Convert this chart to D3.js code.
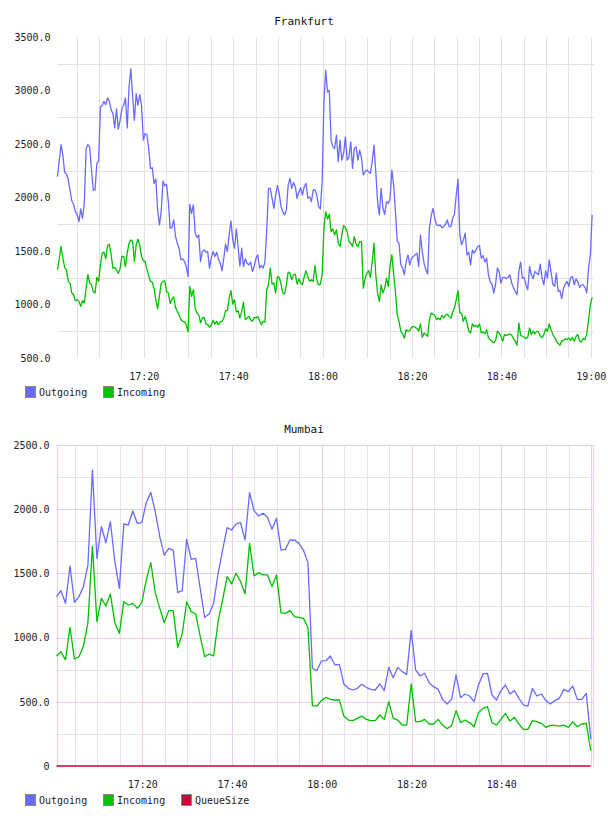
<!DOCTYPE html>
<html>
<head>
<meta charset="utf-8">
<script src="https://cdnjs.cloudflare.com/ajax/libs/d3/7.8.5/d3.min.js"></script>
<style>
body { margin: 0; background: #fff; }
svg text { font-family: "DejaVu Sans Mono", monospace; font-size: 10px; fill: #222; }
</style>
</head>
<body>
<script>
// Frankfurt: one sample every 24 s
const frankStart = "17:00:42"
const frankStepSec = 24
const frankOutgoing = [
  2194,2350,2495,2396,2234,2220,2170,2070,1967,1935,
  1868,1840,1775,1893,1806,1945,2458,2495,2473,2259,
  2070,2070,2318,2340,2846,2862,2899,2868,2930,2900,
  2820,2784,2650,2830,2638,2720,2830,2862,2930,2650,
  3033,3203,2950,2722,2970,2862,2961,2862,2536,2598,
  2589,2458,2272,2278,2132,2172,1884,1744,1868,2154,
  2110,2123,1961,1712,1719,1790,1635,1573,1526,1417,
  1427,1402,1355,1262,1936,1852,1930,1666,1626,1651,
  1402,1495,1511,1489,1495,1340,1433,1495,1449,1489,
  1427,1386,1315,1433,1564,1495,1651,1781,1604,1526,
  1706,1542,
  1360,1526,1355,1427,1386,1371,1396,1309,1355,1433,
  1464,1340,1365,1340,1396,1681,2085,2085,1992,1899,
  2023,2110,2039,1914,1868,1837,1883,2116,2178,2085,
  2141,2101,1992,2054,2091,2023,2101,2132,1992,2008,
  1961,2070,2070,2023,1914,1893,2147,2900,3190,2986,
  3001,2536,2473,2458,2582,2334,2536,2349,2411,2567,
  2349,2380,2520,2272,2458,2473,2349,2442,2365,2210,
  2241,2256,2241,2225,2334,2489,2241,1961,1837,2085,
  1899,1843,1961,1945,1992,2256,2116,1868,1588,1573,
  1371,1340,1278,1402,1464,1371,1433,1449,
  1464,1480,1355,1650,1495,1386,1324,1284,1712,1831,
  1899,1806,1744,1737,1744,1719,1728,1750,1790,1728,
  1728,1806,1843,2023,2172,1650,1557,1604,1666,1464,
  1489,1371,1511,1480,1511,1542,1551,1433,1458,1396,
  1433,1278,1210,1191,1107,1191,1340,1309,1200,1253,
  1253,1241,1253,1278,1200,1160,1122,1091,1309,1396,
  1247,1253,1184,1138,1355,1278,1241,1309,1293,1278,
  1377,1247,1184,1315,1247,1417,1309,1191,1169,1293,
  1122,1129,1054,1153,1191,1216,1169,1253,1262,1184,
  1241,1210,1160,1184,1184,1160,1107,1340,1464,1837
]
const frankIncoming = [
  1324,1430,1542,1433,1346,1324,1216,1200,1107,1091,
  1035,1045,1029,983,1035,1014,1150,1278,1200,1185,
  1122,1107,1253,1216,1371,1480,1489,1427,1551,1564,
  1464,1340,1346,1324,1290,1333,1449,1449,1355,1480,
  1573,1604,1588,1402,1560,1610,1550,1450,1408,1402,
  1330,1270,1216,1210,1150,1040,961,1080,1200,1216,
  1222,1122,1107,1010,1050,1070,973,936,905,860,
  843,837,812,744,1169,1076,1138,960,920,905,
  828,874,880,818,812,787,806,853,818,843,
  812,837,843,874,942,942,1060,1129,1004,1045,
  930,942,
  874,936,1023,858,874,889,858,843,880,874,
  889,849,812,843,834,1138,1184,1340,1191,1200,
  1107,1262,1253,1191,1107,1098,1184,1303,1293,1231,
  1278,1284,1191,1241,1200,1184,1262,1315,1262,1216,
  1231,1216,1365,1231,1184,1191,1278,1712,1868,1800,
  1843,1681,1706,1650,1697,1573,1542,1650,1737,1719,
  1681,1588,1573,1542,1635,1564,1542,1588,1588,1153,
  1241,1293,1315,1253,1402,1573,1278,1107,1029,1184,
  1107,1153,1247,1169,1371,1464,1278,1116,905,843,
  750,725,687,765,750,756,787,796,
  787,775,750,818,694,734,719,703,858,920,
  911,899,858,874,858,899,874,899,911,889,
  874,930,967,1045,1129,920,920,843,889,827,
  750,734,818,796,806,787,818,734,744,725,
  765,688,672,657,641,663,750,734,703,657,
  719,712,719,725,712,681,657,619,827,712,
  703,694,681,694,781,719,750,725,750,744,
  703,688,719,775,750,818,765,719,694,657,
  638,619,663,663,681,672,688,663,694,657,
  703,719,657,650,681,672,725,858,998,1066
]
const frankYLabels = [500, 1000, 1500, 2000, 2500, 3000, 3500]
const frankXLabels = ["17:20", "17:40", "18:00", "18:20", "18:40", "19:00"]

// Mumbai: one sample per minute
const mumbaiStart = "17:00:55"
const mumbaiStepSec = 60
const mumbaiOutgoing = [
  1319,1366,1267,1558,1275,1319,1397,1565,2305,1617,
  1864,1739,1903,1591,1384,1885,1877,1986,1890,1895,
  2051,2131,1981,1786,1643,1695,1682,1350,1366,1765,
  1610,1617,1384,1158,1184,1267,1501,1682,1856,1838,
  1885,1895,1760,2129,1989,1947,1968,1937,1843,1929,
  1682,1687,1760,1760,1734,1682,1584,761,743,818,
  820,857,787,792,639,605,592,605,636,613,
  597,592,639,587,768,688,768,735,714,1054,
  748,701,722,649,618,597,519,483,519,709,
  532,561,545,501,631,717,722,553,514,587,
  631,561,587,527,475,467,605,545,561,509,
  483,509,527,597,579,623,519,519,566,208
]
const mumbaiIncoming = [
  857,890,826,1080,833,851,935,1116,1713,1124,
  1306,1246,1340,1116,1033,1280,1254,1267,1228,1272,
  1449,1584,1350,1228,1116,1210,1210,924,1028,1280,
  1202,1184,1012,851,872,857,1124,1293,1475,1418,
  1501,1436,1340,1734,1480,1506,1488,1488,1397,1488,
  1194,1189,1210,1163,1158,1150,1080,470,467,509,
  535,519,514,514,389,358,353,371,389,363,
  353,353,397,363,501,371,358,319,319,639,
  345,345,363,327,327,363,319,291,314,431,
  338,358,338,306,415,449,462,338,319,363,
  410,350,379,327,285,285,353,345,332,301,
  316,316,311,319,301,345,306,327,332,119
]
const mumbaiQueueSize = [
  0,0,0,0,0,0,0,0,0,0, 0,0,0,0,0,0,0,0,0,0,
  0,0,0,0,0,0,0,0,0,0, 0,0,0,0,0,0,0,0,0,0,
  0,0,0,0,0,0,0,0,0,0, 0,0,0,0,0,0,0,0,0,0,
  0,0,0,0,0,0,0,0,0,0, 0,0,0,0,0,0,0,0,0,0,
  0,0,0,0,0,0,0,0,0,0, 0,0,0,0,0,0,0,0,0,0,
  0,0,0,0,0,0,0,0,0,0, 0,0,0,0,0,0,0,0,0,0
]
const mumbaiYLabels = [0, 500, 1000, 1500, 2000, 2500]
const mumbaiXLabels = ["17:20", "17:40", "18:00", "18:20", "18:40"]

const colors = { Outgoing: "#6a6aff", Incoming: "#00c000", QueueSize: "#cc0033" }

const W = 608, H = 816
const parse = d3.timeParse("%H:%M:%S")
const fmt = d3.timeFormat("%H:%M")

const svg = d3.select("body").append("svg")
    .attr("width", W)
    .attr("height", H)

function drawChart(cfg) {
    const g = svg.append("g")
    const x = d3.scaleTime().domain(cfg.xDomain.map(parse)).range([cfg.left, cfg.right])
    const y = d3.scaleLinear().domain(cfg.yDomain).range([cfg.bottom, cfg.top])
    const t0 = parse(cfg.start)
    const timeAt = i => new Date(t0.getTime() + i * cfg.step * 1000)

    // title
    g.append("text")
        .attr("x", W / 2)
        .attr("y", cfg.top - 12)
        .attr("text-anchor", "middle")
        .style("font-size", "11px")
        .style("fill", "#111")
        .text(cfg.title)

    // vertical grid every 5 min
    const vt = d3.timeMinute.every(5).range(x.domain()[0], x.domain()[1])
    g.append("g").selectAll("line")
        .data(vt)
        .join("line")
        .attr("x1", d => Math.round(x(d)) + 0.5)
        .attr("x2", d => Math.round(x(d)) + 0.5)
        .attr("y1", cfg.top)
        .attr("y2", cfg.bottom)
        .attr("stroke", d => cfg.pink && d.getMinutes() % 20 === 0 ? cfg.pink : cfg.grid)
        .attr("stroke-width", 1)

    // horizontal grid, between and (optionally) on the labelled values
    const step = cfg.yLabels[1] - cfg.yLabels[0]
    const mids = cfg.yLabels.slice(0, -1).map(v => v + step / 2)
    g.append("g").selectAll("line")
        .data(mids)
        .join("line")
        .attr("x1", cfg.left)
        .attr("x2", cfg.right)
        .attr("y1", d => Math.round(y(d)) + 0.5)
        .attr("y2", d => Math.round(y(d)) + 0.5)
        .attr("stroke", cfg.grid)

    if (cfg.pink) {
        g.append("g").selectAll("line")
            .data(cfg.yLabels.slice(1))
            .join("line")
            .attr("x1", cfg.left)
            .attr("x2", cfg.right)
            .attr("y1", d => Math.round(y(d)) + 0.5)
            .attr("y2", d => Math.round(y(d)) + 0.5)
            .attr("stroke", cfg.pink)
        // left and right border
        g.selectAll(".border")
            .data([cfg.left, cfg.right])
            .join("line")
            .attr("class", "border")
            .attr("x1", d => Math.round(d) + 0.5)
            .attr("x2", d => Math.round(d) + 0.5)
            .attr("y1", cfg.top)
            .attr("y2", cfg.bottom)
            .attr("stroke", cfg.pink)
    }

    // y axis labels
    const yAxis = d3.axisLeft(y)
        .tickValues(cfg.yLabels)
        .tickSize(0)
        .tickPadding(4)
        .tickFormat(d => d === 0 ? "0" : d3.format(".1f")(d))
    g.append("g")
        .attr("transform", `translate(${cfg.left - 3},0)`)
        .call(yAxis)
        .call(a => a.select(".domain").remove())
        .call(a => a.selectAll("text").style("font-family", null).style("font-size", null))

    // x axis labels
    const xAxis = d3.axisBottom(x)
        .tickValues(cfg.xLabels.map(s => parse(s + ":00")))
        .tickSize(0)
        .tickPadding(15)
        .tickFormat(fmt)
    g.append("g")
        .attr("transform", `translate(0,${cfg.bottom})`)
        .call(xAxis)
        .call(a => a.select(".domain").remove())

    // series lines
    const line = d3.line()
        .x((d, i) => x(timeAt(i)))
        .y(d => y(d))
    cfg.series.forEach(s => {
        g.append("path")
            .datum(s.values)
            .attr("fill", "none")
            .attr("stroke", colors[s.name])
            .attr("stroke-width", 1.3)
            .attr("stroke-linejoin", "round")
            .attr("d", line)
    })

    // legend
    const lg = g.append("g").attr("transform", `translate(25,${cfg.legendY})`)
    let lx = 0
    cfg.series.forEach(s => {
        lg.append("rect")
            .attr("x", lx + 0.5)
            .attr("y", 0.5)
            .attr("width", 10)
            .attr("height", 11)
            .attr("fill", colors[s.name])
            .attr("stroke", "#888")
        lg.append("text")
            .attr("x", lx + 14)
            .attr("y", 10)
            .text(s.name)
        lx += 14 + s.name.length * 6 + 16
    })
}

drawChart({
    title: "Frankfurt",
    start: frankStart, step: frankStepSec,
    xDomain: ["17:00:42", "19:00:43"],
    yDomain: [500, 3500],
    left: 57.5, right: 594, top: 37, bottom: 358,
    yLabels: frankYLabels, xLabels: frankXLabels,
    grid: "#e2e2e2", pink: null,
    legendY: 386,
    series: [
        { name: "Outgoing", values: frankOutgoing },
        { name: "Incoming", values: frankIncoming }
    ]
})

drawChart({
    title: "Mumbai",
    start: mumbaiStart, step: mumbaiStepSec,
    xDomain: ["17:00:55", "19:00:25"],
    yDomain: [0, 2500],
    left: 56.5, right: 593, top: 445, bottom: 766,
    yLabels: mumbaiYLabels, xLabels: mumbaiXLabels,
    grid: "#e4e4e4", pink: "#e6cfe6",
    legendY: 794,
    series: [
        { name: "Outgoing", values: mumbaiOutgoing },
        { name: "Incoming", values: mumbaiIncoming },
        { name: "QueueSize", values: mumbaiQueueSize }
    ]
})
</script>
</body>
</html>
